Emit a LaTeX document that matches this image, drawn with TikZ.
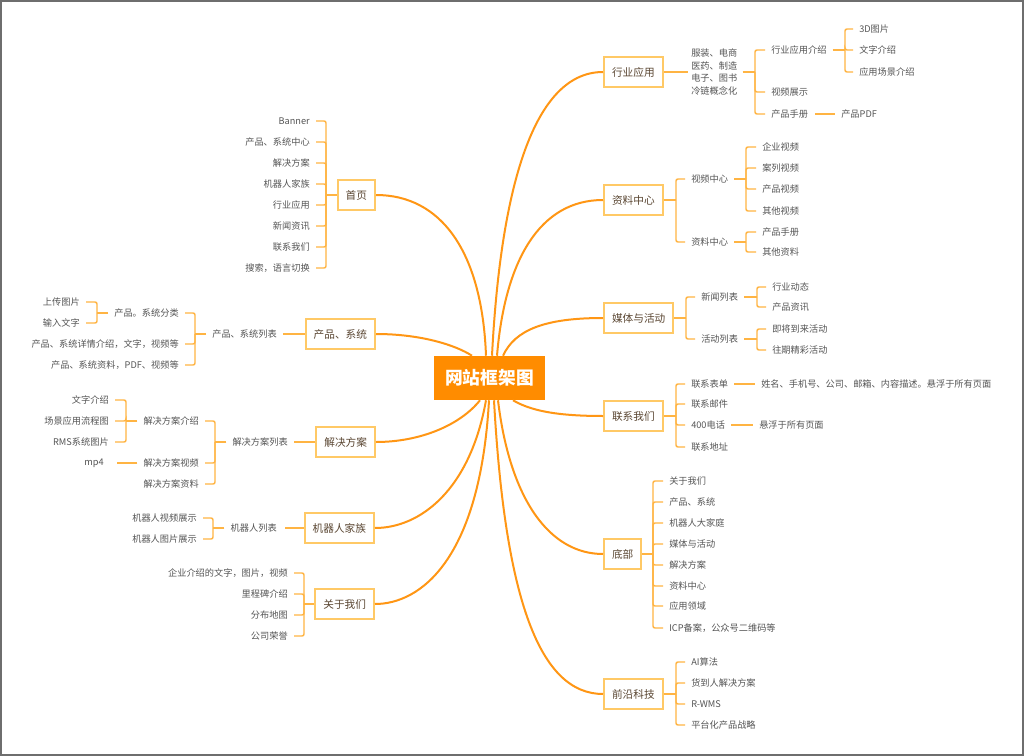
\documentclass[tikz,border=0pt]{standalone}
\usepackage{fontspec}
\setmainfont{Noto Sans CJK SC}
\usetikzlibrary{calc}
\definecolor{rootorange}{HTML}{FF8C00}
\definecolor{curveorange}{HTML}{FF9614}
\definecolor{branchorange}{HTML}{FFB443}
\definecolor{boxborder}{HTML}{FFC966}
\definecolor{leaftext}{HTML}{555555}
\definecolor{boxtext}{HTML}{5A4632}
\definecolor{framegray}{HTML}{6E6E6E}
\tikzset{
  curve/.style={draw=curveorange, line width=1.5pt},
  branch/.style={draw=branchorange, line width=1.1pt, rounded corners=1.5pt},
  rootbox/.style={fill=rootorange, text=white, font=\fontsize{13.3}{15}\selectfont\bfseries, minimum width=83.25pt, minimum height=33pt, inner sep=0pt},
  topic/.style={draw=boxborder, line width=1.5pt, fill=white, text=boxtext, font=\fontsize{8}{10}\selectfont, minimum height=22.5pt, inner xsep=6pt, inner ysep=0pt},
  tr/.style={topic, anchor=west},
  tl/.style={topic, anchor=east},
  leaf/.style={font=\fontsize{6.9}{9.5}\selectfont, text=leaftext, inner sep=0pt},
  lr/.style={leaf, anchor=west},
  ll/.style={leaf, anchor=east},
}
\newcommand\branchR[3]{%
  \coordinate (tmpS) at #1;
  \coordinate (tmpB) at (#2,0);
  \draw[branch] (tmpS) -- (tmpS -| tmpB);
  \foreach \ch in {#3}{\draw[branch] (tmpS -| tmpB) |- ($(\ch.west)+(-6,0)$);}
}
\newcommand\branchL[3]{%
  \coordinate (tmpS) at #1;
  \coordinate (tmpB) at (#2,0);
  \draw[branch] (tmpS) -- (tmpS -| tmpB);
  \foreach \ch in {#3}{\draw[branch] (tmpS -| tmpB) |- ($(\ch.east)+(6,0)$);}
}
\begin{document}
\begin{tikzpicture}[x=0.75pt,y=-0.75pt]
\useasboundingbox (0,0) rectangle (1024,756);
\fill[white] (0,0) rectangle (1024,756);
\draw[framegray, line width=1.2pt] (0.8,0.8) rectangle (1023.2,755.2);

% root
\node[rootbox] (root) at (489.5,378) {网站框架图};

% ---------- right side ----------
\node[tr] (hy) at (603,72) {行业应用};
\node[lr, align=left] (hyt) at (691,72) {服装、电商\\医药、制造\\电子、图书\\冷链概念化};
\node[lr] (hy1) at (771,50) {行业应用介绍};
\node[lr] (hy2) at (771,92) {视频展示};
\node[lr] (hy3) at (771,114) {产品手册};
\node[lr] (hy11) at (859,29) {3D图片};
\node[lr] (hy12) at (859,50) {文字介绍};
\node[lr] (hy13) at (859,72) {应用场景介绍};
\node[lr] (hy31) at (841,114) {产品PDF};

\node[tr] (zl) at (603,200) {资料中心};
\node[lr] (zl1) at (691,179) {视频中心};
\node[lr] (zl2) at (691,242) {资料中心};
\node[lr] (zl11) at (762,147) {企业视频};
\node[lr] (zl12) at (762,168) {案列视频};
\node[lr] (zl13) at (762,189) {产品视频};
\node[lr] (zl14) at (762,211) {其他视频};
\node[lr] (zl21) at (762,232) {产品手册};
\node[lr] (zl22) at (762,252) {其他资料};

\node[tr] (mt) at (603,318) {媒体与活动};
\node[lr] (mt1) at (701,297) {新闻列表};
\node[lr] (mt2) at (701,339) {活动列表};
\node[lr] (mt11) at (772,287) {行业动态};
\node[lr] (mt12) at (772,307) {产品资讯};
\node[lr] (mt21) at (772,329) {即将到来活动};
\node[lr] (mt22) at (772,350) {往期精彩活动};

\node[tr] (lx) at (603,416) {联系我们};
\node[lr] (lx1) at (691,384) {联系表单};
\node[lr] (lx2) at (691,404) {联系邮件};
\node[lr] (lx3) at (691,425) {400电话};
\node[lr] (lx4) at (691,447) {联系地址};
\node[lr] (lx11) at (761,384) {姓名、手机号、公司、邮箱、内容描述。悬浮于所有页面};
\node[lr] (lx31) at (759,425) {悬浮于所有页面};

\node[tr] (db) at (603,554) {底部};
\node[lr] (db1) at (669,481) {关于我们};
\node[lr] (db2) at (669,502) {产品、系统};
\node[lr] (db3) at (669,523) {机器人大家庭};
\node[lr] (db4) at (669,544) {媒体与活动};
\node[lr] (db5) at (669,565) {解决方案};
\node[lr] (db6) at (669,586) {资料中心};
\node[lr] (db7) at (669,606) {应用领域};
\node[lr] (db8) at (669,628) {ICP备案，公众号二维码等};

\node[tr] (qy) at (603,694) {前沿科技};
\node[lr] (qy1) at (691,662) {AI算法};
\node[lr] (qy2) at (691,683) {货到人解决方案};
\node[lr] (qy3) at (691,704) {R-WMS};
\node[lr] (qy4) at (691,725) {平台化产品战略};

% ---------- left side ----------
\node[tl] (sy) at (376,195) {首页};
\node[ll] (sy1) at (310,121) {Banner};
\node[ll] (sy2) at (310,142) {产品、系统中心};
\node[ll] (sy3) at (310,163) {解决方案};
\node[ll] (sy4) at (310,184) {机器人家族};
\node[ll] (sy5) at (310,205) {行业应用};
\node[ll] (sy6) at (310,226) {新闻资讯};
\node[ll] (sy7) at (310,247) {联系我们};
\node[ll] (sy8) at (310,268) {搜索，语言切换};

\node[tl] (cp) at (376,334) {产品、系统};
\node[ll] (cp1) at (277,334) {产品、系统列表};
\node[ll] (cp11) at (179,313) {产品。系统分类};
\node[ll] (cp12) at (179,344) {产品、系统详情介绍，文字，视频等};
\node[ll] (cp13) at (179,365) {产品、系统资料，PDF、视频等};
\node[ll] (cp111) at (80,302) {上传图片};
\node[ll] (cp112) at (80,323) {输入文字};

\node[tl] (jj) at (376,442) {解决方案};
\node[ll] (jj1) at (288,442) {解决方案列表};
\node[ll] (jj11) at (199,421) {解决方案介绍};
\node[ll] (jj12) at (199,463) {解决方案视频};
\node[ll] (jj13) at (199,484) {解决方案资料};
\node[ll] (jj111) at (109,400) {文字介绍};
\node[ll] (jj112) at (109,421) {场景应用流程图};
\node[ll] (jj113) at (109,442) {RMS系统图片};
\node[ll] (jj121) at (104,463) {mp4};

\node[tl] (jq) at (375,528) {机器人家族};
\node[ll] (jq1) at (277,528) {机器人列表};
\node[ll] (jq11) at (197,518) {机器人视频展示};
\node[ll] (jq12) at (197,539) {机器人图片展示};

\node[tl] (gy) at (375,604) {关于我们};
\node[ll] (gy1) at (288,573) {企业介绍的文字，图片，视频};
\node[ll] (gy2) at (288,594) {里程碑介绍};
\node[ll] (gy3) at (288,615) {分布地图};
\node[ll] (gy4) at (288,636) {公司荣誉};

% ---------- main curves ----------
\draw[curve] ($(root.north)+(2.5,0)$) .. controls +(8,-156) and +(-73,0) .. (hy.west);
\draw[curve] ($(root.north)+(7.5,0)$) .. controls +(8,-96) and +(-63,0) .. (zl.west);
\draw[curve] ($(root.north)+(13.5,0)$) .. controls +(12,-26) and +(-58,0) .. (mt.west);
\draw[curve] ($(root.south)+(23.5,0)$) .. controls +(17,10) and +(-48,0) .. (lx.west);
\draw[curve] ($(root.south)+(8.5,0)$) .. controls +(12,100) and +(-53,0) .. (db.west);
\draw[curve] ($(root.south)+(4.5,0)$) .. controls +(11,200) and +(-63,0) .. (qy.west);
\draw[curve] ($(root.north)+(-3.5,0)$) .. controls +(-4,-106) and +(64,0) .. (sy.east);
\draw[curve] ($(root.north)+(-17.5,0)$) .. controls +(-17,-11) and +(44,0) .. (cp.east);
\draw[curve] ($(root.south)+(-9.5,0)$) .. controls +(-20,25) and +(44,0) .. (jj.east);
\draw[curve] ($(root.south)+(-3.5,0)$) .. controls +(-16,90) and +(45,0) .. (jq.east);
\draw[curve] ($(root.south)+(-0.5,0)$) .. controls +(-9,160) and +(45,0) .. (gy.east);

% ---------- branches right ----------
\draw[branch] (hy.east) -- ($(hy.east -| hyt.west)+(-3,0)$);
\branchR{($(hyt.east)+(5,0)$)}{755}{hy1,hy2,hy3}
\branchR{($(hy1.east)+(6,0)$)}{845}{hy11,hy12,hy13}
\draw[branch] ($(hy3.east)+(7,0)$) -- ($(hy31.west)+(-6,0)$);
\branchR{(zl.east)}{676}{zl1,zl2}
\branchR{($(zl1.east)+(6,0)$)}{746}{zl11,zl12,zl13,zl14}
\branchR{($(zl2.east)+(6,0)$)}{746}{zl21,zl22}
\branchR{(mt.east)}{686}{mt1,mt2}
\branchR{($(mt1.east)+(6,0)$)}{757}{mt11,mt12}
\branchR{($(mt2.east)+(6,0)$)}{757}{mt21,mt22}
\branchR{(lx.east)}{676}{lx1,lx2,lx3,lx4}
\draw[branch] ($(lx1.east)+(6,0)$) -- ($(lx11.west)+(-6,0)$);
\draw[branch] ($(lx3.east)+(6,0)$) -- ($(lx31.west)+(-6,0)$);
\branchR{(db.east)}{653}{db1,db2,db3,db4,db5,db6,db7,db8}
\branchR{(qy.east)}{676}{qy1,qy2,qy3,qy4}

% ---------- branches left ----------
\branchL{(sy.west)}{326}{sy1,sy2,sy3,sy4,sy5,sy6,sy7,sy8}
\draw[branch] (cp.west) -- ($(cp1.east)+(6,0)$);
\branchL{($(cp1.west)+(-6,0)$)}{195}{cp11,cp12,cp13}
\branchL{($(cp11.west)+(-6,0)$)}{97}{cp111,cp112}
\draw[branch] (jj.west) -- ($(jj1.east)+(6,0)$);
\branchL{($(jj1.west)+(-6,0)$)}{215}{jj11,jj12,jj13}
\branchL{($(jj11.west)+(-6,0)$)}{126}{jj111,jj112,jj113}
\draw[branch] ($(jj12.west)+(-6,0)$) -- ($(jj121.east)+(13,0)$);
\draw[branch] (jq.west) -- ($(jq1.east)+(8,0)$);
\branchL{($(jq1.west)+(-6,0)$)}{213}{jq11,jq12}
\branchL{(gy.west)}{304}{gy1,gy2,gy3,gy4}
\end{tikzpicture}
\end{document}
